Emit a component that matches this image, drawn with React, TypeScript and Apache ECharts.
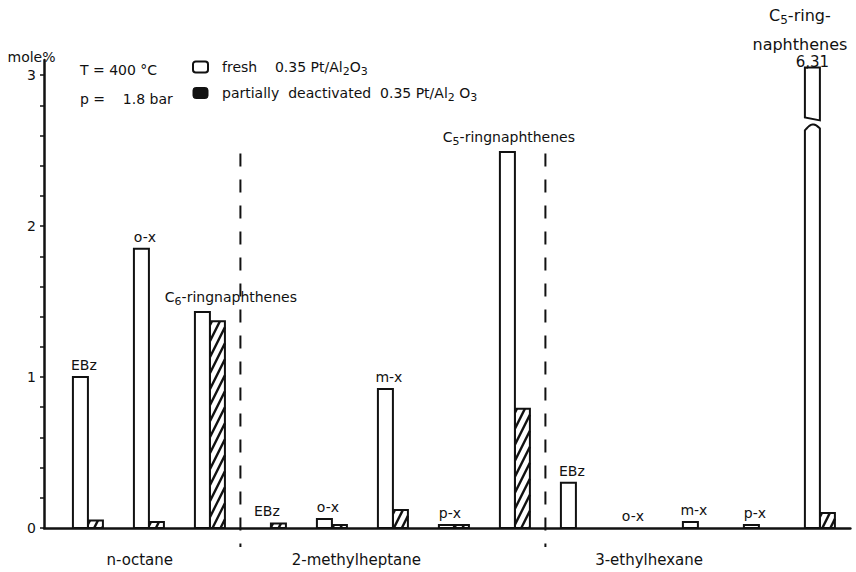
import React, { useEffect, useRef } from "react";
import * as echarts from "echarts";

// Aromatics and naphthenes formed from three C8 paraffins (mole%)
const feeds = ["n-octane", "2-methylheptane", "3-ethylhexane"];
const productsPerFeed = [3, 5, 5];
const products = [
  "EBz", "o-x", "C6-ringnaphthenes",
  "EBz", "o-x", "m-x", "p-x", "C5-ringnaphthenes",
  "EBz", "o-x", "m-x", "p-x", "C5-ring-\nnaphthenes",
];
const freshCatalyst = [1.0, 1.85, 1.43, 0, 0.06, 0.92, 0.02, 2.49, 0.3, 0, 0.04, 0.02, 6.31];
const deactivatedCatalyst = [0.05, 0.04, 1.37, 0.03, 0.02, 0.12, 0.02, 0.79, 0, 0, 0, 0, 0.1];
const yTickLabels = [0, 1, 2, 3];
const seriesNames = ["fresh", "partially deactivated"];
const catalystNames = ["0.35 Pt/Al2O3", "0.35 Pt/Al2 O3"];
const conditions = ["T = 400 °C", "p =    1.8 bar"];

// drawing constants
const INK = "#111";
const FONT = "DejaVu Sans";
const Y_MAX = 3.1;
const BAR_W = 15;
const BREAK_HI = 2.72;
const BREAK_LO = 2.64;
const DIVIDER_TOP = 2.48;
const feedLabelAt = [0.85, 4.4, 9.2];
const labelShift: Record<number, number> = { 2: 21, 7: -6, 12: -20 };

const sub = (s: string) => s.replace(/([A-Za-z])(\d)/g, "$1{s|$2}");

const richSub = (size: number, lh?: number) => ({
  n: { fontSize: size, fontFamily: FONT, fill: INK, lineHeight: lh },
  s: {
    fontSize: Math.round(size * 0.78),
    fontFamily: FONT,
    fill: INK,
    padding: [9, 0, 0, 0],
    lineHeight: lh,
  },
});

function hatchLines(x0: number, x1: number, yt: number, yb: number) {
  const r = 0.5;
  const step = 8;
  const H = yb - yt;
  const out: any[] = [];
  for (let c = x0 - r * H + 2; c < x1; c += step) {
    const yLow = Math.min(yb, yb - (x0 - c) / r);
    const yHigh = Math.max(yt, yb - (x1 - c) / r);
    if (yLow <= yHigh + 0.5) continue;
    out.push({
      type: "line",
      shape: { x1: c + r * (yb - yLow), y1: yLow, x2: c + r * (yb - yHigh), y2: yHigh },
      style: { stroke: INK, lineWidth: 2.4 },
    });
  }
  return out;
}

function renderFresh(params: any, api: any) {
  const i = params.dataIndex;
  const x = api.value(0) as number;
  const v = api.value(1) as number;
  const [cx, y0] = api.coord([x, 0]);
  const left = cx - BAR_W;
  const barStyle = { fill: "#fff", stroke: INK, lineWidth: 2 };
  const children: any[] = [];
  const shift = labelShift[i] ?? -4;

  if (v > Y_MAX) {
    // bar exceeds the axis: draw it broken and state its value
    const yCap = api.coord([x, Y_MAX - 0.05])[1];
    const yHi = api.coord([x, BREAK_HI])[1];
    const yLo = api.coord([x, BREAK_LO])[1];
    children.push({
      type: "polygon",
      shape: { points: [[left, yCap], [cx, yCap], [cx, yHi + 3], [left, yHi]] },
      style: barStyle,
    });
    const arch: number[][] = [];
    for (let k = 0; k <= 10; k++) {
      const t = k / 10;
      arch.push([left + t * BAR_W, yLo + 1 - 5 * Math.sin(Math.PI * t) - 2 * t]);
    }
    children.push({
      type: "polygon",
      shape: { points: [[left, y0], ...arch, [cx, y0]] },
      style: barStyle,
    });
    children.push({
      type: "text",
      x: cx - BAR_W / 2,
      y: yCap + 2,
      style: {
        text: v.toFixed(2).replace(".", ","),
        fontFamily: FONT,
        fontSize: 15,
        fill: INK,
        align: "center",
        verticalAlign: "bottom",
      },
    });
    children.push({
      type: "text",
      x: cx + shift,
      y: yCap - 9,
      style: {
        text: products[i]
          .split("\n")
          .map((line) => "{n|" + sub(line).replace(/\{s\|(\d)\}/g, "}{s|$1}{n|") + "}")
          .join("\n"),
        rich: richSub(16, 29),
        fontFamily: FONT,
        fontSize: 16,
        fill: INK,
        align: "center",
        verticalAlign: "bottom",
      },
    });
    return { type: "group", children };
  }

  if (v > 0) {
    const yt = api.coord([x, v])[1];
    children.push({
      type: "rect",
      shape: { x: left, y: yt, width: BAR_W, height: y0 - yt },
      style: barStyle,
    });
  }
  const top = api.coord([x, Math.max(v, deactivatedCatalyst[i])])[1];
  children.push({
    type: "text",
    x: cx + shift,
    y: top - 5,
    style: {
      text: sub(products[i]),
      rich: richSub(14),
      fontFamily: FONT,
      fontSize: 14,
      fill: INK,
      align: "center",
      verticalAlign: "bottom",
    },
  });
  return { type: "group", children };
}

function renderDeactivated(params: any, api: any) {
  const x = api.value(0) as number;
  const v = api.value(1) as number;
  if (!(v > 0)) return { type: "group", children: [] };
  const [cx, y0] = api.coord([x, 0]);
  const yt = api.coord([x, v])[1];
  return {
    type: "group",
    children: [
      { type: "rect", shape: { x: cx, y: yt, width: BAR_W, height: y0 - yt }, style: { fill: "#fff" } },
      ...hatchLines(cx, cx + BAR_W, yt, y0),
      {
        type: "rect",
        shape: { x: cx, y: yt, width: BAR_W, height: y0 - yt },
        style: { fill: "none", stroke: INK, lineWidth: 2 },
      },
    ],
  };
}

function renderDivider(_params: any, api: any) {
  const x = api.value(0) as number;
  const [px, yTop] = api.coord([x, DIVIDER_TOP]);
  const y0 = api.coord([x, 0])[1];
  return {
    type: "line",
    shape: { x1: px, y1: yTop, x2: px, y2: y0 + 19 },
    style: { stroke: INK, lineWidth: 2, lineDash: [13, 13] },
  };
}

function buildOption(): any {
  const boundaries: number[][] = [];
  let acc = 0;
  productsPerFeed.slice(0, -1).forEach((n) => {
    acc += n;
    boundaries.push([acc - 0.5, 0]);
  });
  const minorTicks: number[] = [];
  for (let k = 0; k <= 15; k++) minorTicks.push(Math.round(k * 2) / 10);

  return {
    animation: false,
    backgroundColor: "#fff",
    textStyle: { fontFamily: FONT, color: INK },
    grid: { left: 44, right: 5.6, top: 60, bottom: 44 },
    title: {
      text: conditions.join("\n"),
      left: 80,
      top: 55,
      padding: 0,
      textStyle: { fontFamily: FONT, fontSize: 14, fontWeight: "normal", color: INK, lineHeight: 29 },
    },
    legend: {
      orient: "vertical",
      left: 192,
      top: 60,
      padding: 0,
      itemWidth: 15,
      itemHeight: 11,
      itemGap: 9,
      selectedMode: false,
      data: [
        { name: seriesNames[0], icon: "roundRect", itemStyle: { color: "#fff", borderColor: INK, borderWidth: 2 } },
        { name: seriesNames[1], icon: "roundRect", itemStyle: { color: INK, borderColor: INK, borderWidth: 1 } },
      ],
      formatter: (name: string) => {
        const k = seriesNames.indexOf(name);
        const label = k === 0 ? "fresh    " : "partially  deactivated  ";
        return sub(label + catalystNames[k]);
      },
      textStyle: {
        fontFamily: FONT,
        fontSize: 14,
        color: INK,
        padding: [0, 0, 0, 9],
        rich: {
          s: { fontFamily: FONT, fontSize: 11, color: INK, padding: [9, 0, 0, 0] },
        },
      },
    },
    xAxis: {
      type: "value",
      min: -0.72,
      max: 12.5,
      splitLine: { show: false },
      axisTick: { show: false },
      axisLine: { lineStyle: { color: INK, width: 2.5 } },
      axisLabel: {
        customValues: feedLabelAt,
        formatter: (v: number) => {
          const k = feedLabelAt.findIndex((p) => Math.abs(p - v) < 1e-6);
          return k >= 0 ? feeds[k] : "";
        },
        margin: 24,
        fontFamily: FONT,
        fontSize: 15,
        color: INK,
      },
    },
    yAxis: {
      type: "value",
      min: 0,
      max: Y_MAX,
      name: "mole%",
      nameLocation: "end",
      nameGap: -4,
      nameTextStyle: { fontFamily: FONT, fontSize: 14, color: INK, align: "center", padding: [0, 25, 0, 0] },
      splitLine: { show: false },
      axisLine: { show: true, onZero: false, lineStyle: { color: INK, width: 2.5 } },
      axisTick: { show: true, length: 4, customValues: minorTicks, lineStyle: { color: INK, width: 1.5 } },
      axisLabel: { customValues: yTickLabels, margin: 8, fontFamily: FONT, fontSize: 14, color: INK },
    },
    series: [
      {
        type: "custom",
        name: "divider",
        data: boundaries,
        encode: { x: 0, y: 1 },
        renderItem: renderDivider,
        silent: true,
      },
      {
        type: "custom",
        name: seriesNames[1],
        data: deactivatedCatalyst.map((v, i) => [i, v]),
        encode: { x: 0, y: 1 },
        renderItem: renderDeactivated,
        itemStyle: { color: INK },
      },
      {
        type: "custom",
        name: seriesNames[0],
        data: freshCatalyst.map((v, i) => [i, v]),
        encode: { x: 0, y: 1 },
        renderItem: renderFresh,
        itemStyle: { color: "#fff" },
      },
    ],
  };
}

export default function App() {
  const ref = useRef<HTMLDivElement>(null);
  useEffect(() => {
    const chart = echarts.init(ref.current!, null, { renderer: "svg" });
    chart.setOption(buildOption());
    return () => chart.dispose();
  }, []);
  return (
    <div
      ref={ref}
      style={{ position: "fixed", left: 0, top: 0, width: 856, height: 572, background: "#fff" }}
    />
  );
}
